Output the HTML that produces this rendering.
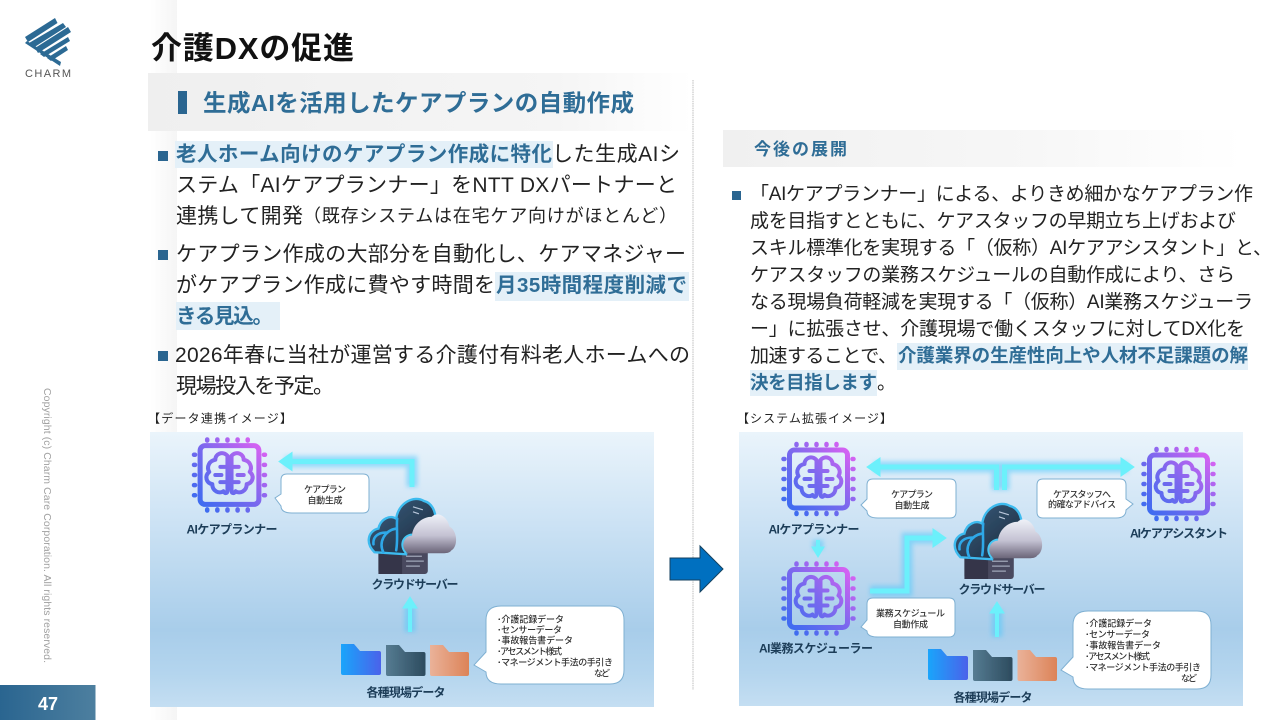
<!DOCTYPE html>
<html lang="ja"><head><meta charset="utf-8"><title>介護DXの促進</title>
<style>
html,body{margin:0;padding:0;background:#fff;width:1280px;height:720px;overflow:hidden}
svg{display:block}
text{font-family:"Liberation Sans","Noto Sans CJK JP",sans-serif;text-spacing-trim:space-all}
.b{font-size:21px;fill:#222}
.s{font-size:18px;fill:#222}
.bh{font-size:20.500px;font-weight:700;fill:#2f6d96}
.r{font-size:19px;fill:#222}
.rh{font-size:18.500px;font-weight:700;fill:#2f6d96}
.lab{font-size:12px;font-weight:700;fill:#1d3d58;text-anchor:middle}
.c{font-size:9px;font-weight:500;fill:#333;text-anchor:middle}
.l{font-size:9px;font-weight:500;fill:#333}
.cap{font-size:12px;fill:#222}
</style></head><body>
<svg xmlns="http://www.w3.org/2000/svg" width="1280" height="720" viewBox="0 0 1280 720">
<defs>
<linearGradient id="side" x1="0" x2="1" y1="0" y2="0"><stop offset="0" stop-color="#fff"/><stop offset="1" stop-color="#f5f5f5"/></linearGradient>
<linearGradient id="num" x1="0" x2="1" y1="0" y2="0"><stop offset="0" stop-color="#2a6590"/><stop offset="1" stop-color="#4d7f9f"/></linearGradient>
<linearGradient id="h1" x1="0" x2="1" y1="0" y2="0"><stop offset="0" stop-color="#efefef"/><stop offset=".75" stop-color="#f5f5f5"/><stop offset="1" stop-color="#fff"/></linearGradient>
<linearGradient id="h2" x1="0" x2="1" y1="0" y2="0"><stop offset="0" stop-color="#f0f0f0"/><stop offset=".6" stop-color="#f7f7f7"/><stop offset="1" stop-color="#fff"/></linearGradient>
<linearGradient id="bg" x1="0" x2="0" y1="0" y2="1"><stop offset="0" stop-color="#eaf4fb"/><stop offset=".3" stop-color="#cfe4f5"/><stop offset=".72" stop-color="#a8cdea"/><stop offset=".88" stop-color="#b4d5ee"/><stop offset="1" stop-color="#c4def2"/></linearGradient>
<linearGradient id="chipg" gradientUnits="userSpaceOnUse" x1="8" y1="68" x2="68" y2="8"><stop offset="0" stop-color="#3c6cf0"/><stop offset=".5" stop-color="#7a68ee"/><stop offset="1" stop-color="#d962f2"/></linearGradient>
<linearGradient id="f1" x1="0" x2="1" y1="0" y2="0"><stop offset="0" stop-color="#1aa5fb"/><stop offset="1" stop-color="#4a62ea"/></linearGradient>
<linearGradient id="f2" x1="0" x2="1" y1="0" y2="0"><stop offset="0" stop-color="#567c92"/><stop offset="1" stop-color="#2c4b5e"/></linearGradient>
<linearGradient id="f3" x1="0" x2="1" y1="0" y2="0"><stop offset="0" stop-color="#eab299"/><stop offset="1" stop-color="#dc8358"/></linearGradient>
<linearGradient id="cl" x1="0" x2="0" y1="0" y2="1"><stop offset="0" stop-color="#eef1f8"/><stop offset=".55" stop-color="#c3c1d2"/><stop offset="1" stop-color="#6a6478"/></linearGradient>
<linearGradient id="cd" x1="0" x2="1" y1="0" y2="1"><stop offset="0" stop-color="#3b5f80"/><stop offset="1" stop-color="#1b2a3c"/></linearGradient>
<filter id="gl" x="-30%" y="-30%" width="160%" height="160%"><feGaussianBlur stdDeviation="2.5"/></filter>
<filter id="soft" x="-5%" y="-5%" width="110%" height="110%"><feGaussianBlur stdDeviation=".35"/></filter>
<symbol id="chip" viewBox="0 0 76 76" overflow="visible">
<g fill="none" stroke="url(#chipg)" stroke-linejoin="round">
<rect x="9" y="9" width="58" height="58" rx="5" stroke-width="5"/>
<g stroke-width="4.500" stroke-linecap="round">
<path d="M16 4V3M26 4V3M36 4V3M46 4V3M56 4V3M16 72V73M26 72V73M36 72V73M46 72V73M56 72V73M4 18H3M4 28H3M4 38H3M4 48H3M4 58H3M72 18H73M72 28H73M72 38H73M72 48H73M72 58H73"/>
</g>
<g stroke-width="4" stroke-linecap="round">
<path d="M36 19C31 14 24 17 24 23C18 24 15 30 18 35C13 39 15 46 21 47C21 54 28 57 32 54C34 57 36 56 36 53Z"/>
<path d="M40 19C45 14 52 17 52 23C58 24 61 30 58 35C63 39 61 46 55 47C55 54 48 57 44 54C42 57 40 56 40 53Z"/>
<path d="M36 30H29M24 38H30M36 45H29M40 30H47M52 38H46M40 45H47"/>
</g>
</g>
</symbol>
<symbol id="cloud" viewBox="0 0 92 80" overflow="visible">
<rect x="12" y="56" width="50" height="24" rx="3" fill="#4a4a5e"/>
<rect x="12" y="56" width="24" height="24" fill="#34364a"/>
<path d="M40 62h16M40 67h18M40 72h14" stroke="#a0a6b8" stroke-width="1.300"/>
<path d="M8 58C-2 48 2 36 12 34C14 24 24 20 30 24C32 8 48 0 58 6C66 8 70 16 70 26L44 42L40 60Z" fill="url(#cd)" stroke="#3dbbef" stroke-width="2.400"/>
<path d="M7 50C6 42 12 38 20 38M17 58C12 48 18 36 30 34M31 24C30 32 32 44 30 56" fill="none" stroke="#2fa8e8" stroke-width="2.600" stroke-linecap="round"/>
<path d="M40 59C32 52 36 40 46 40C48 28 58 22 66 22C72 16 82 22 84 32C92 36 93 52 86 56C84 59 80 59 78 59Z" fill="url(#cl)"/>
<path d="M40 59C33 52 36 41 46 40" fill="none" stroke="#46c8f5" stroke-width="2"/>
<path d="M47 12l10 3M47 17l6 2" stroke="#b8c6da" stroke-width="1.200"/>
</symbol>
</defs>

<rect width="1280" height="720" fill="#fff"/>
<rect x="150" y="0" width="27" height="720" fill="url(#side)"/>

<!-- logo -->
<g fill="#2c6a94">
<path d="M25 37L55 18L57.500 23L28 42Z"/>
<path d="M29 43L63 23L66 27L33 48Z"/>
<path d="M35 48L68 27L71 32L38 53Z"/>
<path d="M27 41L61 62L60 66L25 43Z"/>
<path d="M40 54L68 37L70 41L44 57Z"/>
<path d="M47 58L66 46L68 50L51 61Z"/>
</g>
<text x="25" y="77" font-size="11" fill="#555" textLength="46" lengthAdjust="spacing">CHARM</text>

<!-- copyright -->
<text transform="translate(44,388) rotate(90)" font-size="10.500" fill="#a0a0a0" textLength="275" lengthAdjust="spacing">Copyright (c) Charm Care Corporation. All rights reserved.</text>
<rect x="0" y="685" width="95.500" height="35" fill="url(#num)"/>
<text x="48" y="710" font-size="18" font-weight="700" fill="#fff" text-anchor="middle">47</text>

<!-- title -->
<text x="151" y="59" font-size="31" font-weight="700" fill="#111" textLength="203" lengthAdjust="spacing">介護DXの促進</text>

<!-- left head -->
<rect x="148" y="73" width="545" height="58" fill="url(#h1)"/>
<rect x="178" y="91" width="9" height="23" fill="#2a6590"/>
<text x="203" y="111" font-size="23.500" font-weight="700" fill="#2f6d96" textLength="431" lengthAdjust="spacing">生成AIを活用したケアプランの自動作成</text>

<line x1="693" y1="80" x2="693" y2="690" stroke="#d4d4d4" stroke-width="1.500" stroke-dasharray="1.500 .8"/>

<!-- left highlights -->
<rect x="175" y="141" width="378" height="27" fill="#e4f0f8"/>
<rect x="495" y="272" width="194" height="29" fill="#e4f0f8"/>
<rect x="176" y="302" width="104" height="28" fill="#e4f0f8"/>

<!-- left bullets -->
<g fill="#2a6590"><rect x="158" y="151" width="10" height="10"/><rect x="158" y="250" width="10" height="10"/><rect x="158" y="351" width="10" height="10"/></g>

<text class="bh" x="176" y="161" textLength="376" lengthAdjust="spacing">老人ホーム向けのケアプラン作成に特化</text>
<text class="b" x="552" y="161" textLength="128" lengthAdjust="spacing">した生成AIシ</text>
<text class="b" x="176" y="192" textLength="501" lengthAdjust="spacing">ステム「AIケアプランナー」をNTT DXパートナーと</text>
<text class="b" x="176" y="223" textLength="127" lengthAdjust="spacing">連携して開発</text>
<text class="s" x="303" y="222" textLength="374" lengthAdjust="spacing">（既存システムは在宅ケア向けがほとんど）</text>
<text class="b" x="176" y="261" textLength="510" lengthAdjust="spacing">ケアプラン作成の大部分を自動化し、ケアマネジャー</text>
<text class="b" x="176" y="292" textLength="319" lengthAdjust="spacing">がケアプラン作成に費やす時間を</text>
<text class="bh" x="496" y="292" textLength="191" lengthAdjust="spacing">月35時間程度削減で</text>
<text class="bh" x="176" y="323" textLength="97" lengthAdjust="spacing">きる見込。</text>
<text class="b" x="175" y="362" textLength="515" lengthAdjust="spacing">2026年春に当社が運営する介護付有料老人ホームへの</text>
<text class="b" x="176" y="393" textLength="158" lengthAdjust="spacing">現場投入を予定。</text>

<!-- right head -->
<rect x="723" y="130" width="520" height="37" fill="url(#h2)"/>
<text x="754" y="155" font-size="17" font-weight="700" fill="#2f6d96" textLength="93" lengthAdjust="spacing">今後の展開</text>

<rect x="897" y="343" width="351" height="27" fill="#e4f0f8"/>
<rect x="750" y="370" width="127" height="26" fill="#e4f0f8"/>
<rect x="732" y="191" width="9" height="9" fill="#2a6590"/>

<text class="r" x="750" y="200" textLength="503" lengthAdjust="spacing">「AIケアプランナー」による、よりきめ細かなケアプラン作</text>
<text class="r" x="750" y="227" textLength="486" lengthAdjust="spacing">成を目指すとともに、ケアスタッフの早期立ち上げおよび</text>
<text class="r" x="750" y="254" textLength="522" lengthAdjust="spacing">スキル標準化を実現する「（仮称）AIケアアシスタント」と、</text>
<text class="r" x="750" y="281" textLength="485" lengthAdjust="spacing">ケアスタッフの業務スケジュールの自動作成により、さら</text>
<text class="r" x="750" y="308" textLength="503" lengthAdjust="spacing">なる現場負荷軽減を実現する「（仮称）AI業務スケジューラ</text>
<text class="r" x="750" y="335" textLength="495" lengthAdjust="spacing">ー」に拡張させ、介護現場で働くスタッフに対してDX化を</text>
<text class="r" x="750" y="362" textLength="147" lengthAdjust="spacing">加速することで、</text>
<text class="rh" x="898" y="362" textLength="350" lengthAdjust="spacing">介護業界の生産性向上や人材不足課題の解</text>
<text class="rh" x="750" y="389" textLength="127" lengthAdjust="spacing">決を目指します</text>
<text class="r" x="877" y="389">。</text>

<text class="cap" x="148" y="422.500" textLength="144" lengthAdjust="spacing">【データ連携イメージ】</text>
<text class="cap" x="737" y="422.500" textLength="155" lengthAdjust="spacing">【システム拡張イメージ】</text>

<!-- left diagram -->
<g filter="url(#soft)">
<rect x="150" y="432" width="504" height="275" fill="url(#bg)"/>
<use href="#chip" x="191" y="436.500" width="77" height="77"/>
<text class="lab" x="232" y="533.500" textLength="91" lengthAdjust="spacing">AIケアプランナー</text>
<g fill="none" stroke="#4fc8fb" stroke-width="11" opacity=".55" filter="url(#gl)">
<path d="M412 487V461.500H285"/><path d="M410 632V606"/>
</g>
<g fill="#6cf0fb" stroke="#6cf0fb">
<path d="M412 487V461.500H291" fill="none" stroke-width="5"/>
<path d="M279 461.500L292 452.500V470.500Z"/>
<path d="M410 632V607" fill="none" stroke-width="4"/>
<path d="M410 597L403 608H417Z"/>
</g>
<path d="M287 474H363Q369 474 369 480V507Q369 513 363 513H292Q281 513 281 506L275 498L281 494V480Q281 474 287 474Z" fill="#fff" stroke="#7fb0d2" stroke-width="1"/>
<text class="c" x="325" y="492.500" textLength="42" lengthAdjust="spacing">ケアプラン</text>
<text class="c" x="325" y="503.500" textLength="35" lengthAdjust="spacing">自動生成</text>
<use href="#cloud" x="366" y="495" width="92" height="79"/>
<text class="lab" x="415" y="588.500" textLength="87" lengthAdjust="spacing">クラウドサーバー</text>
<path d="M341 644H354L360 651H379Q381 651 381 653V673Q381 675 379 675H343Q341 675 341 673Z" fill="url(#f1)"/>
<path d="M386 645H399L405 652H423.500Q425.500 652 425.500 654V674Q425.500 676 423.500 676H388Q386 676 386 674Z" fill="url(#f2)"/>
<path d="M430 645H443L449 652H467Q469 652 469 654V674Q469 676 467 676H432Q430 676 430 674Z" fill="url(#f3)"/>
<text class="lab" x="406" y="696.500" textLength="79" lengthAdjust="spacing">各種現場データ</text>
<path d="M501 606H610Q624 606 624 620V670Q624 684 610 684H501Q486 684 486 672L474 665L486 652V620Q486 606 501 606Z" fill="#fff" stroke="#7fb0d2" stroke-width="1"/>
<text class="l" x="497" y="622.500" textLength="67" lengthAdjust="spacing">･介護記録データ</text>
<text class="l" x="497" y="633" textLength="65" lengthAdjust="spacing">･センサーデータ</text>
<text class="l" x="497" y="643.500" textLength="76" lengthAdjust="spacing">･事故報告書データ</text>
<text class="l" x="497" y="654.500" textLength="65" lengthAdjust="spacing">･アセスメント様式</text>
<text class="l" x="497" y="665.500" textLength="116" lengthAdjust="spacing">･マネージメント手法の手引き</text>
<text class="l" x="594" y="676.500" textLength="16" lengthAdjust="spacing">など</text>
</g>

<!-- right diagram -->
<g filter="url(#soft)">
<rect x="739" y="432" width="504" height="274" fill="url(#bg)"/>
<use href="#chip" x="780" y="441" width="77" height="76"/>
<use href="#chip" x="780" y="560.500" width="77" height="76"/>
<use href="#chip" x="1140" y="446" width="77" height="76"/>
<text class="lab" x="814" y="533.500" textLength="91" lengthAdjust="spacing">AIケアプランナー</text>
<text class="lab" x="816" y="652.500" textLength="114" lengthAdjust="spacing">AI業務スケジューラー</text>
<text class="lab" x="1179" y="537.500" textLength="98" lengthAdjust="spacing">AIケアアシスタント</text>
<g fill="none" stroke="#4fc8fb" stroke-width="11" opacity=".55" filter="url(#gl)">
<path d="M874 467H1128"/><path d="M997 467V490M1004 467V490"/><path d="M818 540V550"/><path d="M870 591H907V538H938"/><path d="M997 637V610"/>
</g>
<g fill="#6cf0fb" stroke="#6cf0fb">
<path d="M880 467H996.500V490M1004.500 490V467H1122" fill="none" stroke-width="5"/>
<path d="M867 467L880 458V476Z"/>
<path d="M1134 467L1121 458V476Z"/>
<path d="M818 540V548" fill="none" stroke-width="4"/>
<path d="M818 557L812 547H824Z"/>
<path d="M870 591H907V538H934" fill="none" stroke-width="5"/>
<path d="M946 538L933 529V547Z"/>
<path d="M997 637V612" fill="none" stroke-width="4"/>
<path d="M997 602L990 613H1004Z"/>
</g>
<path d="M873 479H950Q956 479 956 485V512Q956 518 950 518H878Q867 518 867 511L861 505L867 499V485Q867 479 873 479Z" fill="#fff" stroke="#7fb0d2" stroke-width="1"/>
<text class="c" x="912" y="497.500" textLength="42" lengthAdjust="spacing">ケアプラン</text>
<text class="c" x="912" y="508.500" textLength="35" lengthAdjust="spacing">自動生成</text>
<path d="M1043 479H1120Q1126 479 1126 485V499L1133 504L1126 510Q1126 518 1116 518H1043Q1037 518 1037 512V485Q1037 479 1043 479Z" fill="#fff" stroke="#7fb0d2" stroke-width="1"/>
<text class="c" x="1082" y="497.500" textLength="58" lengthAdjust="spacing">ケアスタッフへ</text>
<text class="c" x="1082" y="507.500" textLength="68" lengthAdjust="spacing">的確なアドバイス</text>
<path d="M873 598H949Q955 598 955 604V631Q955 637 949 637H878Q867 637 867 631L861 627L867 620V604Q867 598 873 598Z" fill="#fff" stroke="#7fb0d2" stroke-width="1"/>
<text class="c" x="910.500" y="616.500" textLength="69" lengthAdjust="spacing">業務スケジュール</text>
<text class="c" x="910.500" y="627.500" textLength="35" lengthAdjust="spacing">自動作成</text>
<use href="#cloud" x="952" y="500" width="92" height="79"/>
<text class="lab" x="1002" y="593.500" textLength="87" lengthAdjust="spacing">クラウドサーバー</text>
<path d="M928 649H941L947 656H966Q968 656 968 658V678Q968 680 966 680H930Q928 680 928 678Z" fill="url(#f1)"/>
<path d="M973 650H986L992 657H1010.500Q1012.500 657 1012.500 659V679Q1012.500 681 1010.500 681H975Q973 681 973 679Z" fill="url(#f2)"/>
<path d="M1017.500 650H1030L1036 657H1055Q1057 657 1057 659V679Q1057 681 1055 681H1019.500Q1017.500 681 1017.500 679Z" fill="url(#f3)"/>
<text class="lab" x="993" y="701.500" textLength="79" lengthAdjust="spacing">各種現場データ</text>
<path d="M1088 611H1197Q1211 611 1211 625V675Q1211 689 1197 689H1088Q1073 689 1073 677L1061 670L1073 657V625Q1073 611 1088 611Z" fill="#fff" stroke="#7fb0d2" stroke-width="1"/>
<text class="l" x="1085" y="626.500" textLength="67" lengthAdjust="spacing">･介護記録データ</text>
<text class="l" x="1085" y="637.500" textLength="65" lengthAdjust="spacing">･センサーデータ</text>
<text class="l" x="1085" y="648.500" textLength="76" lengthAdjust="spacing">･事故報告書データ</text>
<text class="l" x="1085" y="659.500" textLength="65" lengthAdjust="spacing">･アセスメント様式</text>
<text class="l" x="1085" y="670.500" textLength="116" lengthAdjust="spacing">･マネージメント手法の手引き</text>
<text class="l" x="1181" y="681.500" textLength="16" lengthAdjust="spacing">など</text>
</g>

<!-- center arrow -->
<path d="M670 558H700V546L723 569L700 592V580H670Z" fill="#0070c0" stroke="#14415f" stroke-width="1"/>
</svg>
</body></html>
